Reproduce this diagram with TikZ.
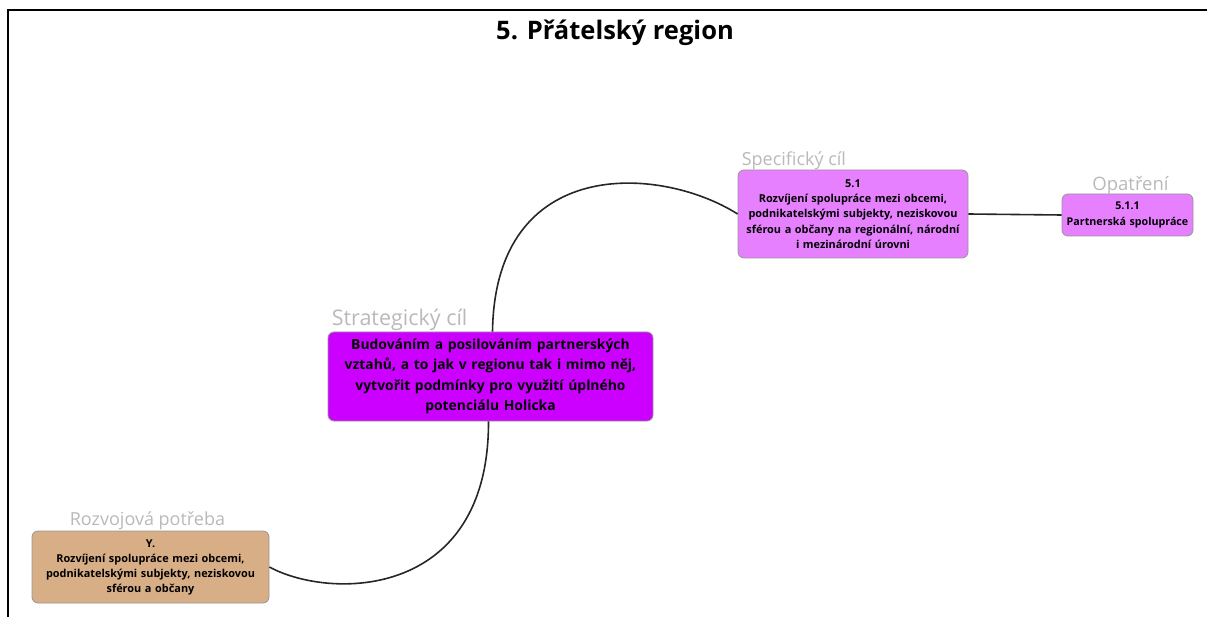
\documentclass[tikz,border=0pt]{standalone}
\usepackage{fontspec}
\setmainfont{Open Sans}
\usetikzlibrary{positioning}
\definecolor{stratfill}{RGB}{204,0,255}
\definecolor{specfill}{RGB}{230,128,255}
\definecolor{needfill}{RGB}{216,174,134}
\definecolor{boxline}{RGB}{150,150,150}
\definecolor{lblgray}{RGB}{185,185,185}
\tikzset{
  goalbox/.style={draw=boxline, line width=0.8pt, rounded corners=6pt, align=center, inner sep=0pt, font=\bfseries},
  lbl/.style={text=lblgray, inner sep=0pt, anchor=base west},
  link/.style={line width=1.6pt, black!85}
}
\begin{document}
\begin{tikzpicture}[x=1pt, y=-1pt]
\useasboundingbox (0,0) rectangle (1207,617);
\draw[line width=2pt] (8,617) -- (8,10) -- (1207,10);
\node[font=\fontsize{25.5}{30}\selectfont\bfseries] (title) at (615,33) {5. Přátelský region};
% boxes
\node[goalbox, fill=stratfill, minimum width=325pt, minimum height=89pt, text width=319pt, font=\fontsize{13.9}{20.5}\selectfont\bfseries] (strat) at (490.5,376.5)
  {Budováním a posilováním partnerských\\vztahů, a to jak v regionu tak i mimo něj,\\vytvořit podmínky pro využití úplného\\potenciálu Holicka};
\node[goalbox, fill=specfill, minimum width=230pt, minimum height=88pt, text width=228pt, font=\fontsize{10.9}{15.3}\selectfont\bfseries] (spec) at (853,214)
  {5.1\\Rozvíjení spolupráce mezi obcemi,\\podnikatelskými subjekty, neziskovou\\sférou a občany na regionální, národní\\i mezinárodní úrovni};
\node[goalbox, fill=specfill, minimum width=131pt, minimum height=42pt, text width=130pt, font=\fontsize{10.7}{15.5}\selectfont\bfseries] (meas) at (1127.5,215)
  {5.1.1\\Partnerská spolupráce};
\node[goalbox, fill=needfill, minimum width=237pt, minimum height=72pt, text width=235pt, font=\fontsize{10.9}{15}\selectfont\bfseries] (need) at (150.5,567)
  {Y.\\Rozvíjení spolupráce mezi obcemi,\\podnikatelskými subjekty, neziskovou\\sférou a občany};
% labels
\node[lbl, font=\fontsize{21.5}{24}\selectfont] (stratlbl) at ([xshift=4pt, yshift=6pt] strat.north west) {Strategický cíl};
\node[lbl, font=\fontsize{18}{20}\selectfont] (speclbl) at ([xshift=4pt, yshift=4pt] spec.north west) {Specifický cíl};
\node[lbl, font=\fontsize{18.5}{20}\selectfont, anchor=base] (measlbl) at ([xshift=3pt, yshift=3pt] meas.north) {Opatření};
\node[lbl, font=\fontsize{18}{20}\selectfont] (needlbl) at ([xshift=38pt, yshift=5pt] need.north west) {Rozvojová potřeba};
% connectors
\coordinate (stratup) at ([xshift=2pt] strat.north);
\coordinate (stratdown) at ([xshift=-2pt] strat.south);
\draw[link] (stratup) .. controls (495,155) and (660,165) .. (spec.west);
\draw[link] (stratdown) .. controls (489,600) and (330,600) .. (need.east);
\draw[link] (spec.east) -- (meas.west);
\end{tikzpicture}
\end{document}
